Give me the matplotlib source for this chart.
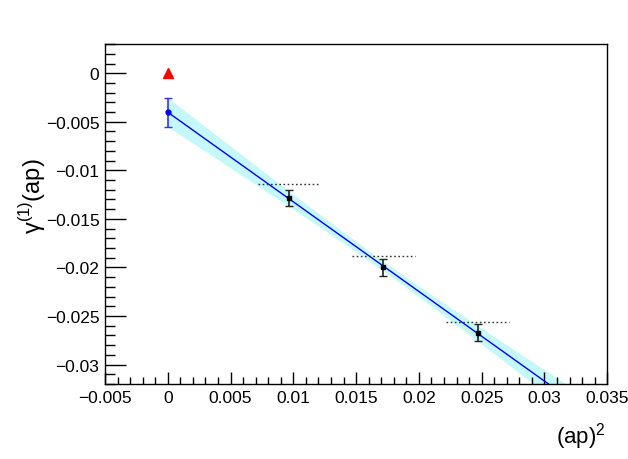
import numpy as np
import matplotlib
matplotlib.use("Agg")
import matplotlib.pyplot as plt
from matplotlib.ticker import MultipleLocator, FixedLocator, FixedFormatter

# ---- data ----
x_pts = [0.00966, 0.01717, 0.02468]
y_pts = [-0.01286, -0.02000, -0.02672]
y_err = [0.00085, 0.00087, 0.00088]
dotted_y = [-0.01136, -0.01877, -0.02566]
dotted_halfwidth = 0.0025

x_extrap = [0.0]
y_extrap = [-0.00403]
y_extrap_err = [0.00147]

x_ref = [0.0]
y_ref = [0.0]

# linear fit parameters (about the mean x) and their uncertainties
fit_xmean = 0.01717
fit_ymean = -0.01986
fit_slope = -0.9228
fit_err_mean = 0.00050
fit_err_slope = 0.0819

x_ticks = [-0.005, 0, 0.005, 0.01, 0.015, 0.02, 0.025, 0.03, 0.035]
x_ticklabels = ["\u22120.005", "0", "0.005", "0.01", "0.015", "0.02", "0.025", "0.03", "0.035"]
y_ticks = [0, -0.005, -0.01, -0.015, -0.02, -0.025, -0.03]
y_ticklabels = ["0", "\u22120.005", "\u22120.01", "\u22120.015", "\u22120.02", "\u22120.025", "\u22120.03"]

plt.rcParams['font.family'] = ['Liberation Sans', 'DejaVu Sans']
plt.rcParams['mathtext.fontset'] = 'custom'
plt.rcParams['mathtext.rm'] = 'Liberation Sans'

fig = plt.figure(figsize=(6.28, 4.60), dpi=100)
ax = fig.add_axes([0.1672, 0.163, 0.967 - 0.1672, 0.902 - 0.163])
ax.set_xlim(-0.005, 0.035)
ax.set_ylim(-0.032, 0.003)

# fit line and confidence band
xf = np.linspace(0.0, 0.035, 300)
yf = fit_ymean + fit_slope * (xf - fit_xmean)
sf = np.sqrt(fit_err_mean**2 + ((xf - fit_xmean) * fit_err_slope)**2)
ax.fill_between(xf, yf - sf, yf + sf, color='#c4f8fa', lw=0, zorder=1)
ax.plot(xf, yf, color='#0000ff', lw=1.0, zorder=2)

# dotted horizontal bars
for xp, yd in zip(x_pts, dotted_y):
    ax.plot([xp - dotted_halfwidth, xp + dotted_halfwidth], [yd, yd],
            color='#333333', lw=1.0, ls=(0, (1.2, 1.8)), zorder=3)

# data points
ax.errorbar(x_pts, y_pts, yerr=y_err, fmt='s', color='black', ecolor='#222222',
            ms=3.5, elinewidth=1.2, capsize=3, capthick=1.0, zorder=5)
ax.errorbar(x_extrap, y_extrap, yerr=y_extrap_err, fmt='o', color='#0000ff',
            ecolor='#3333ff', ms=3.5, elinewidth=1.2, capsize=3, capthick=1.0, zorder=5)
ax.plot(x_ref, y_ref, '^', color='#ff0000', ms=7, zorder=6, clip_on=False)

# ticks
ax.xaxis.set_major_locator(FixedLocator(x_ticks))
ax.xaxis.set_major_formatter(FixedFormatter(x_ticklabels))
ax.yaxis.set_major_locator(FixedLocator(y_ticks))
ax.yaxis.set_major_formatter(FixedFormatter(y_ticklabels))
ax.xaxis.set_minor_locator(MultipleLocator(0.001))
ax.yaxis.set_minor_locator(MultipleLocator(0.001))
ax.tick_params(axis='x', which='major', direction='in', length=9, width=1.0,
               labelsize=12.5, pad=4, top=False)
ax.tick_params(axis='x', which='minor', direction='in', length=5, width=1.0, top=False)
ax.tick_params(axis='y', which='major', direction='in', length=15, width=1.0,
               labelsize=12.5, pad=4, right=False)
ax.tick_params(axis='y', which='minor', direction='in', length=7.5, width=1.0, right=False)
for s in ax.spines.values():
    s.set_linewidth(1.0)

fig.text(0.965, 0.052, r"(ap)$^{\mathrm{2}}$", ha='right', va='center', fontsize=16)
fig.text(0.052, 0.574, "\u03b3" + r"$^{\mathrm{(1)}}$(ap)", ha='center', va='center',
         rotation=90, fontsize=17)

fig.savefig("out.png", dpi=100)
